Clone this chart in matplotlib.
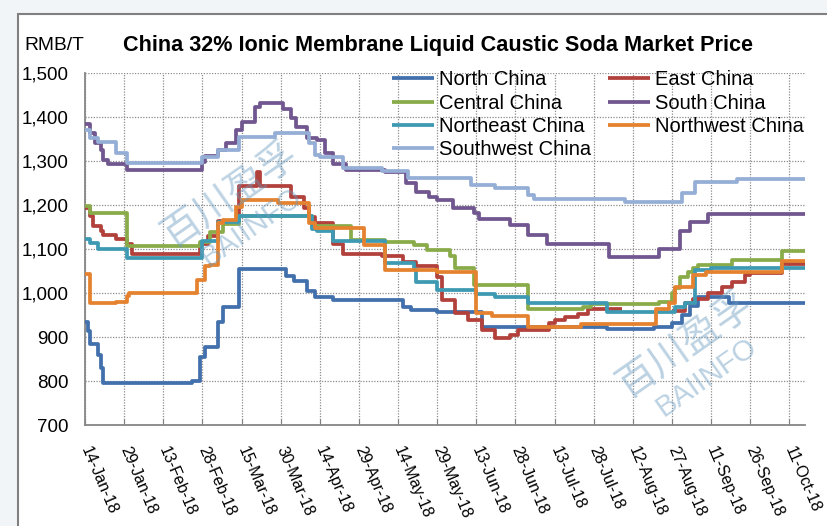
import numpy as np
import pandas as pd
import matplotlib
matplotlib.use("Agg")
import matplotlib.pyplot as plt
from matplotlib.patches import Rectangle
from matplotlib.ticker import FuncFormatter

plt.rcParams['font.family'] = ['Liberation Sans', 'DejaVu Sans']

NAN = float('nan')
START_DATE = "2018-01-14"
END_DATE = "2018-10-17"

# price change points (date, RMB/T)
north_dates = ["2018-01-14", "2018-01-15", "2018-01-16", "2018-01-19", "2018-01-20", "2018-01-21",
               "2018-02-24", "2018-02-27", "2018-03-01", "2018-03-06", "2018-03-08", "2018-03-14",
               "2018-04-01", "2018-04-04", "2018-04-09", "2018-04-12", "2018-04-19", "2018-05-16",
               "2018-05-19", "2018-05-29", "2018-06-15", "2018-08-02", "2018-08-20", "2018-08-27",
               "2018-08-31", "2018-09-03", "2018-09-06", "2018-09-18"]
north_vals = [935, 915, 885, 860, 830, 797,
              801, 856, 878, 935, 970, 1055,
              1040, 1027, 1005, 991, 984, 969,
              963, 958, 923, 918, 923, 932,
              951, 972, 992, 977]

east_dates = ["2018-01-14", "2018-01-16", "2018-01-17", "2018-01-20", "2018-01-21", "2018-01-26",
              "2018-01-30", "2018-02-01", "2018-02-27", "2018-03-02", "2018-03-06", "2018-03-14",
              "2018-03-21", "2018-03-22", "2018-04-03", "2018-04-08", "2018-04-10", "2018-04-12",
              "2018-04-19", "2018-04-23", "2018-05-08", "2018-05-16", "2018-05-21", "2018-05-29",
              "2018-05-31", "2018-06-05", "2018-06-10", "2018-06-15", "2018-06-20", "2018-06-26",
              "2018-06-29", "2018-07-11", "2018-07-13", "2018-07-17", "2018-07-22", "2018-07-26",
              "2018-08-08", "2018-08-27", "2018-09-01", "2018-09-04", "2018-09-10", "2018-09-15",
              "2018-09-19", "2018-09-24", "2018-09-26", "2018-10-08"]
east_vals = [1195, 1176, 1154, 1142, 1133, 1123,
             1112, 1090, 1112, 1131, 1165, 1244,
             1275, 1244, 1218, 1193, 1174, 1160,
             1113, 1090, 1084, 1071, 1063, 1037,
             985, 955, 939, 916, 898, 905,
             916, 933, 940, 947, 954, 965,
             NAN, 960, 977, 986, 1000, 1015,
             1026, 1042, 1047, 1067]

central_dates = ["2018-01-14", "2018-01-16", "2018-01-30", "2018-02-27", "2018-03-03", "2018-03-08",
                 "2018-03-14", "2018-04-11", "2018-04-26", "2018-05-09", "2018-05-20", "2018-05-25",
                 "2018-06-03", "2018-06-05", "2018-06-12", "2018-07-03", "2018-07-24", "2018-07-27",
                 "2018-08-22", "2018-08-27", "2018-08-28", "2018-08-30", "2018-09-02", "2018-09-04",
                 "2018-09-06", "2018-09-19", "2018-10-08"]
central_vals = [1199, 1182, 1107, 1116, 1139, 1158,
                1176, 1152, 1121, 1116, 1110, 1099,
                1084, 1058, 1020, 964, 970, 976,
                980, 1000, 1011, 1038, 1049, 1058,
                1064, 1075, 1096]

south_dates = ["2018-01-14", "2018-01-16", "2018-01-18", "2018-01-20", "2018-01-21", "2018-01-23",
               "2018-01-30", "2018-02-28", "2018-03-01", "2018-03-06", "2018-03-09", "2018-03-13",
               "2018-03-15", "2018-03-20", "2018-03-22", "2018-03-31", "2018-04-03", "2018-04-05",
               "2018-04-09", "2018-04-13", "2018-04-16", "2018-04-19", "2018-04-24", "2018-05-09",
               "2018-05-17", "2018-05-21", "2018-05-26", "2018-05-29", "2018-06-04", "2018-06-12",
               "2018-06-14", "2018-06-26", "2018-07-03", "2018-07-10", "2018-08-03", "2018-08-22",
               "2018-08-30", "2018-09-03", "2018-09-10"]
south_vals = [1385, 1364, 1341, 1326, 1303, 1293,
              1280, 1299, 1311, 1326, 1341, 1371,
              1390, 1424, 1432, 1420, 1398, 1379,
              1352, 1348, 1318, 1295, 1280, 1276,
              1250, 1231, 1220, 1212, 1193, 1182,
              1170, 1155, 1133, 1112, 1083, 1100,
              1142, 1161, 1180]

northeast_dates = ["2018-01-14", "2018-01-16", "2018-01-19", "2018-01-30", "2018-02-28", "2018-03-06",
                   "2018-03-14", "2018-04-11", "2018-04-13", "2018-04-19", "2018-05-09", "2018-05-20",
                   "2018-05-21", "2018-05-29", "2018-06-13", "2018-06-20", "2018-07-03", "2018-08-02",
                   "2018-08-28", "2018-09-01", "2018-09-05", "2018-09-11"]
northeast_vals = [1124, 1114, 1101, 1080, 1120, 1161,
                  1176, 1146, 1141, 1120, 1070, 1055,
                  1025, 1008, 998, 992, 977, 958,
                  970, 979, 1053, 1057]

northwest_dates = ["2018-01-14", "2018-01-16", "2018-01-26", "2018-01-30", "2018-01-31", "2018-02-26",
                   "2018-03-01", "2018-03-03", "2018-03-06", "2018-03-08", "2018-03-13", "2018-03-15",
                   "2018-03-29", "2018-04-10", "2018-04-12", "2018-05-01", "2018-05-09", "2018-05-29",
                   "2018-06-13", "2018-06-19", "2018-07-03", "2018-07-23", "2018-08-21", "2018-08-26",
                   "2018-08-28", "2018-09-04", "2018-09-09", "2018-10-08"]
northwest_vals = [1045, 977, 981, 994, 1000, 1030,
                  1061, 1064, 1159, 1167, 1197, 1212,
                  1206, 1160, 1148, 1110, 1053, 1049,
                  955, 948, 924, 930, 964, 977,
                  1015, 1042, 1049, 1074]

southwest_dates = ["2018-01-14", "2018-01-16", "2018-01-19", "2018-01-26", "2018-01-30", "2018-02-28",
                   "2018-03-06", "2018-03-14", "2018-03-28", "2018-04-10", "2018-04-12", "2018-04-14",
                   "2018-04-23", "2018-05-08", "2018-05-18", "2018-06-11", "2018-06-20", "2018-07-03",
                   "2018-07-05", "2018-08-09", "2018-08-31", "2018-09-05", "2018-09-21"]
southwest_vals = [1371, 1352, 1345, 1320, 1297, 1309,
                  1326, 1356, 1364, 1341, 1314, 1310,
                  1284, 1277, 1261, 1246, 1239, 1223,
                  1214, 1208, 1227, 1252, 1259]

tick_labels = ["14-Jan-18", "29-Jan-18", "13-Feb-18", "28-Feb-18", "15-Mar-18", "30-Mar-18",
               "14-Apr-18", "29-Apr-18", "14-May-18", "29-May-18", "13-Jun-18", "28-Jun-18",
               "13-Jul-18", "28-Jul-18", "12-Aug-18", "27-Aug-18", "11-Sep-18", "26-Sep-18",
               "11-Oct-18"]

# drawing order as in the original workbook
series = [
    ("North China", north_dates, north_vals, "#4270ac"),
    ("East China", east_dates, east_vals, "#b2413c"),
    ("Central China", central_dates, central_vals, "#8aab4a"),
    ("South China", south_dates, south_vals, "#71578f"),
    ("Northeast China", northeast_dates, northeast_vals, "#3e9ab2"),
    ("Northwest China", northwest_dates, northwest_vals, "#e5822f"),
    ("Southwest China", southwest_dates, southwest_vals, "#94aed5"),
]

W, H = 828, 526
fig = plt.figure(figsize=(W / 100, H / 100), dpi=100)
fig.patch.set_facecolor('#f2f5f8')
fig.patches.append(Rectangle((18 / W, -0.01), 1.0, 1 - 14 / H + 0.01, transform=fig.transFigure,
                             facecolor='white', edgecolor='#808080', lw=1.5, zorder=-5))

ax = fig.add_axes([85 / W, 1 - 425.3 / H, 720 / W, 352 / H])
ax.set_zorder(2)
ax.set_facecolor('none')

handles = {}
for name, dates, vals, color in series:
    x = pd.to_datetime(dates + [END_DATE])
    y = vals + [vals[-1]]
    h, = ax.plot(x, y, drawstyle='steps-post', color=color, lw=2.7, label=name,
                 solid_joinstyle='round', solid_capstyle='butt', zorder=3)
    handles[name] = h

ax.set_xlim(pd.Timestamp(START_DATE), pd.Timestamp(END_DATE))
ax.set_ylim(700, 1500)
ax.set_yticks(range(700, 1501, 100))
ax.yaxis.set_major_formatter(FuncFormatter(lambda v, p: f"{int(v):,}"))
tick_pos = pd.date_range(START_DATE, periods=len(tick_labels), freq='15D')
ax.set_xticks(tick_pos)
ax.set_xticklabels(tick_labels, rotation=-67, ha='left', va='center', rotation_mode='anchor', fontsize=11.5)
ax.tick_params(axis='x', direction='in', length=4, color='#808080', pad=16)
ax.tick_params(axis='y', direction='out', length=0, pad=12, labelsize=13.5)

ax.grid(True, color='#8c8c8c', linestyle=(0, (1, 1.2)), lw=0.9)
ax.set_axisbelow(True)
for s in ['top', 'right']:
    ax.spines[s].set_visible(False)
for s in ['left', 'bottom']:
    ax.spines[s].set_color('#868686')
    ax.spines[s].set_linewidth(1.3)

order = ["North China", "Central China", "Northeast China", "Southwest China",
         "East China", "South China", "Northwest China"]
ax.legend(handles=[handles[n] for n in order], ncol=2, frameon=False, loc='upper left',
          bbox_to_anchor=((392 - 85) / 720, 1.008), fontsize=14.5, handlelength=2.1,
          handletextpad=0.25, columnspacing=0.8, labelspacing=0.21, borderpad=0, borderaxespad=0)

fig.text(438 / W, 1 - 45 / H, "China 32% Ionic Membrane Liquid Caustic Soda Market Price",
         ha='center', va='center', fontsize=15.6, fontweight='bold')
fig.text(24 / W, 1 - 46 / H, "RMB/T", ha='left', va='center', fontsize=13.8)

# BAIINFO watermarks
for wx, wy in [(230, 195), (685, 345)]:
    fig.text(wx / W, 1 - wy / H, "百川盈孚", family=['Noto Sans CJK SC', 'DejaVu Sans'],
             fontsize=28, color='#6a9cc0', alpha=0.45, rotation=35, ha='center', va='center', zorder=5)
    fig.text((wx + 22) / W, 1 - (wy + 32) / H, "BAIINFO", fontsize=21, color='#6a9cc0',
             alpha=0.45, rotation=35, ha='center', va='center', zorder=5)

fig.savefig("out.png", dpi=100, facecolor=fig.get_facecolor())
